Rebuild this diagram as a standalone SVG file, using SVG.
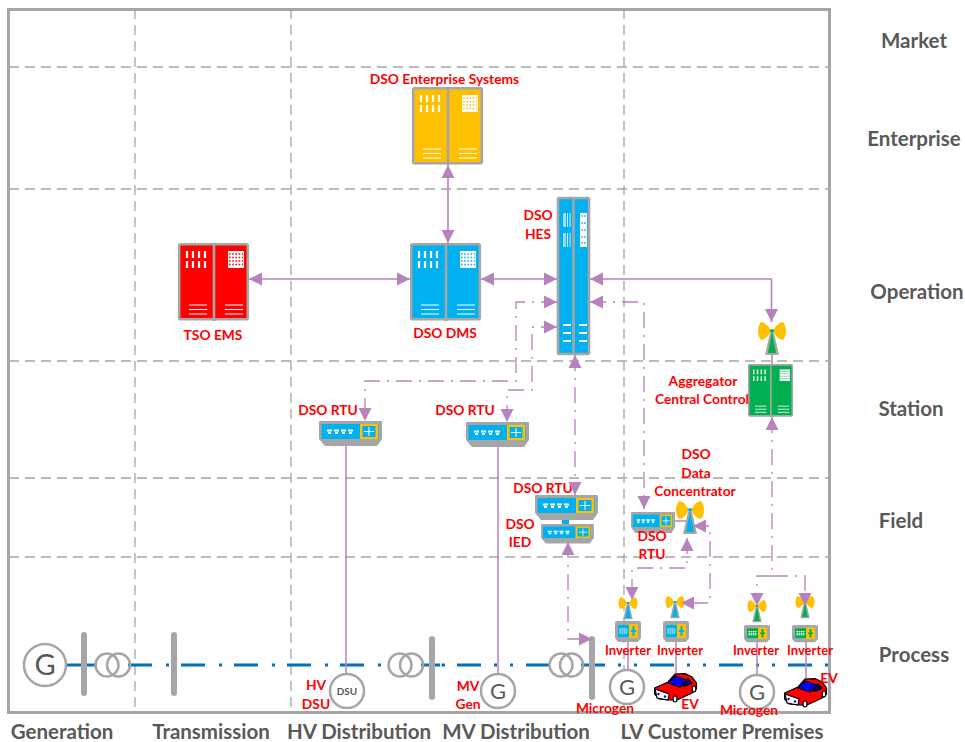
<svg xmlns="http://www.w3.org/2000/svg" width="965" height="742" viewBox="0 0 965 742">
<style>
text{font-family:"Lato","Liberation Sans",sans-serif;font-weight:700;text-anchor:middle}
.r{fill:#ff0000;font-size:13.800px}
.i{fill:#ff0000;font-size:13px}
.h{fill:#595959;font-size:20.500px}
.grid{stroke:#a6a6a6;stroke-width:1.3;stroke-dasharray:10 6;fill:none}
.c{fill:none;stroke:#b683bd;stroke-width:1.6}
.d{stroke-width:1.3;stroke-dasharray:16 7 2 7}
.e{marker-end:url(#ah)}
.s{marker-start:url(#ahs)}
.t{fill:none;stroke:#b683bd;stroke-width:1.5}
.bus{fill:none;stroke:#0070c0;stroke-width:3}
.bar{fill:#a6a6a6}
.ring{fill:none;stroke:#a6a6a6;stroke-width:2.5}
.gen{fill:#fff;stroke:#a6a6a6;stroke-width:2.5}
.g{fill:#595959;font-weight:400;font-size:22px}
</style>
<defs>
<marker id="ah" markerUnits="userSpaceOnUse" markerWidth="14" markerHeight="14" refX="13" refY="7" orient="auto"><path d="M0 0.500L13 7L0 13.500Z" fill="#b683bd"/></marker>
<marker id="ahs" markerUnits="userSpaceOnUse" markerWidth="14" markerHeight="14" refX="0" refY="7" orient="auto"><path d="M13 0.500L0 7L13 13.500Z" fill="#b683bd"/></marker>
<g id="rack">
<rect x="1.200" y="1.200" width="68.600" height="75" rx="1.500" fill="currentColor" stroke="#a6a6a6" stroke-width="2.600"/>
<path d="M36 0V78" stroke="#a6a6a6" stroke-width="2.600"/>
<path d="M9 8v7M15 8v7M21 8v7M27 8v7M9 18v7M15 18v7M21 18v7M27 18v7" stroke="#fff" stroke-width="2.200"/>
<path d="M11 62h18M11 66.500h18M11 71h18M47 62h18M47 66.500h18M47 71h18" stroke="#fff" stroke-width="1.200"/>
<rect x="50" y="8" width="16" height="17" fill="#fff"/>
<path d="M51 11h14M51 14.500h14M51 18h14M51 21.500h14" stroke="currentColor" stroke-width="1.400" stroke-dasharray="1.600 1.600"/>
</g>
<g id="rtu">
<path d="M1 0H62Q63 0 63 1V18L58 25H6L0 18V1Q0 0 1 0Z" fill="#a6a6a6"/>
<rect x="2.500" y="3" width="57" height="15" fill="#00b0f0"/>
<rect x="41" y="3" width="18" height="15" fill="#ffc000"/>
<rect x="43.500" y="5" width="13" height="11" fill="#00b0f0"/>
<path d="M50 6v9M45 10.500h10" stroke="#fff" stroke-width="1"/>
<path d="M8 9.500h5M15 9.500h5M22 9.500h5M29 9.500h5M9 12h3M16 12h3M23 12h3M30 12h3" stroke="#fff" stroke-width="2"/>
</g>
<g id="inv">
<path d="M2 0H24Q26 0 26 2V17L23 21H3L0 17V2Q0 0 2 0Z" fill="#a6a6a6"/>
<rect x="3" y="4" width="20" height="12" fill="currentColor"/>
<rect x="14" y="3" width="9" height="14" rx="1" fill="#ffc000"/>
<path d="M18.500 5v10M16 10h5" stroke="currentColor" stroke-width="2"/>
<path d="M4.500 8h8M4.500 10h8M4.500 12h8" stroke="#fff" stroke-width="1.200" stroke-dasharray="1.500 .6"/>
</g>
<g id="ant">
<path d="M-1 0C-4 -6 -8 -9 -11 -9C-15 -4 -15 4 -11 9C-8 9 -4 6 -1 0Z" fill="#ffc000"/>
<path d="M1 0C4 -6 8 -9 11 -9C15 -4 15 4 11 9C8 9 4 6 1 0Z" fill="#ffc000"/>
<path d="M-2 2H2L7 24H-7Z" fill="#a6a6a6"/>
<path d="M0 1L4 22H-4Z" fill="currentColor"/>
<circle r="2" cy="0" fill="currentColor"/>
</g>
<g id="car" stroke="#000" stroke-width="1.200">
<path d="M0.600 15L14 9L21 1L31 .6L38 4L42.500 10V16L38 20L22 27.500L5 26L.6 21Z" fill="#ff0000"/>
<path d="M14 10L21 3L33 7L26 14Z" fill="#0000ff"/>
<path d="M34 6L38 10L32 13L29 13Z" fill="#000099"/>
<path d="M1 16L15 21L14 27L3 25Z" fill="#fff"/>
<circle cx="4.500" cy="21" r="1.200" fill="#0000ff" stroke="none"/>
<circle cx="11" cy="23.500" r="1.200" fill="#0000ff" stroke="none"/>
<ellipse cx="21" cy="26" rx="2" ry="3" fill="#fff"/>
<ellipse cx="40" cy="16" rx="1.800" ry="3" fill="#fff"/>
</g>
</defs>

<rect width="965" height="742" fill="#fff"/>

<g id="frame">
<path class="grid" d="M9 67H829M9 189H829M9 361H829M9 478H829M9 557H829M135 9V713M291 9V713M624 9V713"/>
<rect x="8.500" y="9.500" width="821" height="703" fill="none" stroke="#a6a6a6" stroke-width="3"/>
</g>

<g id="bus">
<path class="bus" d="M66 665H97"/>
<path class="bus" d="M128 665H385" stroke-dasharray="24 14 3 12"/>
<path class="bus" d="M421 665H440M441.500 665H445"/>
<path class="bus" d="M457 665H549" stroke-dasharray="24 13 3 13 3 13"/>
<path class="bus" d="M581 665H829" stroke-dasharray="24 13 3 13 3 13"/>
</g>

<g id="lanes-right">
<text class="h" x="914" y="48">Market</text>
<text class="h" x="914" y="146">Enterprise</text>
<text class="h" x="917" y="299">Operation</text>
<text class="h" x="911" y="416">Station</text>
<text class="h" x="901" y="528">Field</text>
<text class="h" x="914" y="662">Process</text>
</g>
<g id="lanes-bottom">
<text class="h" x="62" y="739">Generation</text>
<text class="h" x="211" y="739">Transmission</text>
<text class="h" x="359" y="739">HV Distribution</text>
<text class="h" x="516" y="739">MV Distribution</text>
<text class="h" x="722" y="739">LV Customer Premises</text>
</g>

<g id="thin-links">
<path class="t" d="M346 446V675M498 447V675M628 642V672M676 642V676M757 642V676M806 642V682M675 521H686M772 355V417"/>
</g>

<g id="grid-equipment">
<g id="gen1"><circle class="gen" cx="45" cy="665" r="21"/><text class="g" style="font-size:29px" x="45" y="675">G</text></g>
<rect id="bar1" class="bar" x="81" y="632" width="6" height="64" rx="3"/>
<g id="tx1"><circle class="ring" cx="107" cy="665" r="11.500"/><circle class="ring" cx="118.500" cy="665" r="11.500"/></g>
<rect id="bar2" class="bar" x="171" y="632" width="6" height="64" rx="3"/>
<g id="hv-dsu"><circle class="gen" cx="347" cy="691" r="17"/><text x="347" y="695" fill="#595959" style="font-size:10px">DSU</text>
<text class="r" x="316" y="690">HV</text><text class="r" x="316" y="709">DSU</text></g>
<g id="tx2"><circle class="ring" cx="400" cy="665" r="11.500"/><circle class="ring" cx="411.500" cy="665" r="11.500"/></g>
<rect id="bar3" class="bar" x="429" y="636" width="6" height="64" rx="3"/>
<g id="mv-gen"><circle class="gen" cx="498" cy="691" r="17"/><text class="g" x="498" y="699">G</text>
<text class="r" x="468" y="691">MV</text><text class="r" x="468" y="709">Gen</text></g>
<g id="tx3"><circle class="ring" cx="561" cy="665" r="11.500"/><circle class="ring" cx="571.500" cy="665" r="11.500"/></g>
<rect id="bar4" class="bar" x="589" y="636" width="6" height="64" rx="3"/>
<g id="microgen1"><circle class="gen" cx="627" cy="687" r="17"/><text class="g" x="627" y="695">G</text><text class="r" x="605" y="713">Microgen</text></g>
<g id="microgen2"><circle class="gen" cx="757" cy="692" r="17"/><text class="g" x="757" y="700">G</text><text class="r" x="749" y="715">Microgen</text></g>
<g id="ev1"><use href="#car" transform="translate(654 673)"/><text class="r" x="690" y="709">EV</text></g>
<g id="ev2"><use href="#car" transform="translate(784 678)"/><text class="r" x="829" y="683">EV</text></g>
</g>

<g id="dso-enterprise"><use href="#rack" color="#ffc000" transform="translate(412 87)"/><text class="r" x="444.500" y="84">DSO Enterprise Systems</text></g>
<g id="tso-ems"><use href="#rack" color="#ff0000" transform="translate(178 243)"/><text class="r" x="213" y="340">TSO EMS</text></g>
<g id="dso-dms"><use href="#rack" color="#00b0f0" transform="translate(410 243)"/><text class="r" x="445" y="338">DSO DMS</text></g>

<g id="dso-hes">
<rect x="558" y="198" width="31" height="156" rx="1" fill="#00b0f0" stroke="#a6a6a6" stroke-width="2.600"/>
<path d="M573.500 197V355" stroke="#a6a6a6" stroke-width="2.600"/>
<path d="M563 213h3v14h-3zM563 233h3v14h-3z" fill="#99dff9"/>
<path d="M567.500 213v14M570 213v14M567.500 233v14M570 233v14" stroke="#d9f3fd" stroke-width="1"/>
<rect x="580" y="213" width="7" height="34" fill="#fff"/>
<path d="M581.500 216h4M581.500 223h4M581.500 230h4M581.500 237h4M581.500 243h4" stroke="#00b0f0" stroke-width="1.500" stroke-dasharray="1.500 1"/>
<path d="M563 325h8M563 333h8M563 341h8M579 325h8M579 333h8M579 341h8" stroke="#fff" stroke-width="2"/>
<text class="r" x="538" y="220">DSO</text><text class="r" x="538" y="239">HES</text>
</g>

<g id="aggregator">
<use href="#rack" color="#00b050" transform="translate(748 364) scale(.634 .68)"/>
<text class="r" x="703" y="386">Aggregator</text><text class="r" x="702" y="404">Central Control</text>
</g>
<g id="agg-antenna"><use href="#ant" color="#00b050" transform="translate(772 331)"/></g>

<g id="rtu-hv"><use href="#rtu" transform="translate(319 421)"/><text class="r" x="328" y="415">DSO RTU</text></g>
<g id="rtu-mv"><use href="#rtu" transform="translate(466 422)"/><text class="r" x="465" y="415">DSO RTU</text></g>
<g id="rtu-field">
<rect x="562" y="518" width="7" height="8" fill="#00b0f0"/>
<use href="#rtu" transform="translate(535 495)"/>
<use href="#rtu" transform="translate(541 524) scale(.84 .78)"/>
<text class="r" x="543" y="493">DSO RTU</text>
<text class="r" x="520" y="529">DSO</text><text class="r" x="520" y="547">IED</text>
</g>
<g id="rtu-dc"><use href="#rtu" transform="translate(631 512) scale(.7 .84)"/><text class="r" x="652" y="541">DSO</text><text class="r" x="652" y="559">RTU</text></g>
<g id="data-concentrator"><use href="#ant" color="#00b0f0" transform="translate(690 510)"/>
<text class="r" x="696" y="459">DSO</text><text class="r" x="696" y="478">Data</text><text class="r" x="695" y="496">Concentrator</text></g>

<g id="inverter1"><use href="#ant" color="#00b0f0" transform="translate(628 603) scale(.68)"/><use href="#inv" color="#00b0f0" transform="translate(615 621)"/><text class="i" x="628" y="655">Inverter</text></g>
<g id="inverter2"><use href="#ant" color="#00b0f0" transform="translate(675 602) scale(.68)"/><use href="#inv" color="#00b0f0" transform="translate(663 621)"/><text class="i" x="680" y="655">Inverter</text></g>
<g id="inverter3"><use href="#ant" color="#00b050" transform="translate(757 606) scale(.68)"/><use href="#inv" color="#00b050" transform="translate(744 625) scale(1 .82)"/><text class="i" x="756" y="655">Inverter</text></g>
<g id="inverter4"><use href="#ant" color="#00b050" transform="translate(805 602) scale(.68)"/><use href="#inv" color="#00b050" transform="translate(792 625) scale(1 .82)"/><text class="i" x="810" y="655">Inverter</text></g>

<g id="connectors">
<path class="c s e" d="M448 165V243"/>
<path class="c s e" d="M249 279H410"/>
<path class="c s e" d="M481 279H557"/>
<path class="c s e" d="M590 279H771.500V322"/>
<path class="c d" d="M557 302H516V381H365V421" style="marker-end:url(#ah);marker-start:url(#ahs)"/>
<path class="c d" d="M557 327H532V390H507V422" style="marker-end:url(#ah);marker-start:url(#ahs)"/>
<path class="c d s e" d="M575 355V495"/>
<path class="c d s e" d="M590 302H644V509"/>
<path class="c d s e" d="M568 542V639H592"/>
<path class="c d s e" d="M693 526H710V603H681"/>
<path class="c d s e" d="M687 538V568H632V600"/>
<path class="c d s" d="M772 417V576"/>
<path class="c d e" d="M772 576H757V606"/>
<path class="c d e" d="M772 576H805V606"/>
</g>
</svg>
